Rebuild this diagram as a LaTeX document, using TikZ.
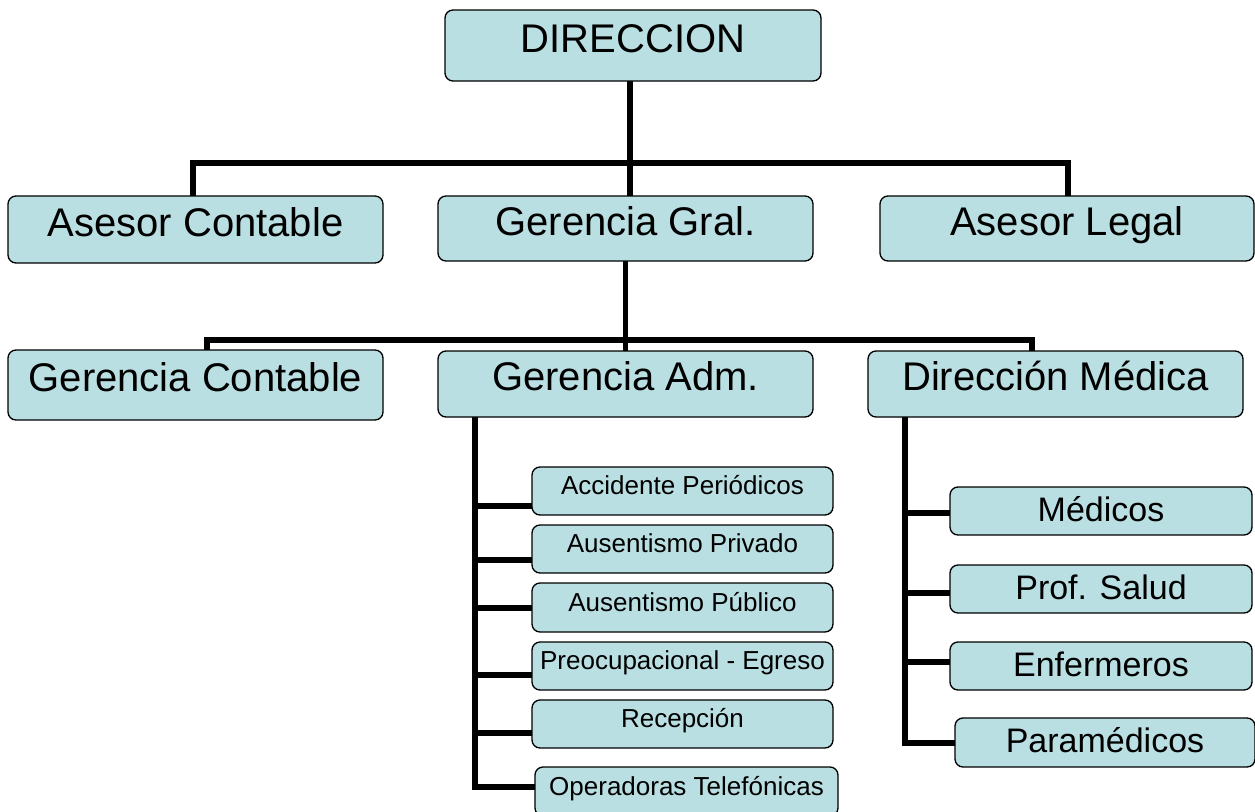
\documentclass[tikz,border=0pt]{standalone}
\usepackage{fontspec}
\setmainfont{Liberation Sans}
\definecolor{boxfill}{RGB}{185,223,226}
\pgfdeclarelayer{background}
\pgfsetlayers{background,main}
\begin{document}
\begin{tikzpicture}[x=0.75pt,y=-0.75pt,
  orgbox/.style={draw=black, line width=1pt, fill=boxfill, rounded corners=6pt,
    inner sep=0pt, outer sep=0pt, align=center},
  sz/.style 2 args={minimum width=#1*0.75pt, minimum height=#2*0.75pt},
  bigbox/.style={orgbox, font=\fontsize{30}{36}\selectfont, text height=16.95pt, text depth=6.75pt},
  midbox/.style={orgbox, font=\fontsize{25.5}{30}\selectfont, text height=21.2pt, text depth=6pt},
  smallbox/.style={orgbox, font=\fontsize{19.5}{24}\selectfont, text height=10.2pt, text depth=4.5pt},
  conn/.style={draw=black, line width=4.3pt, line join=miter}]
\useasboundingbox (0,0) rectangle (1255,811);

% top levels
\node[bigbox, sz={376}{71}] (dir) at (633,45.5) {DIRECCION};
\node[bigbox, sz={375}{67}] (ac) at (195.5,229.5) {Asesor Contable};
\node[bigbox, sz={375}{65}] (gg) at (625.5,228.5) {Gerencia Gral.};
\node[bigbox, sz={374}{65}] (al) at (1067,228.5) {Asesor Legal};
\node[bigbox, sz={375}{70}] (gc) at (195.5,385) {Gerencia Contable};
\node[bigbox, sz={375}{66}] (ga) at (625.5,384) {Gerencia Adm.};
\node[bigbox, sz={375}{66}] (dm) at (1055.5,384) {Dirección Médica};

% administration units
\node[smallbox, sz={301}{48}] (s1) at (682.5,491) {Accidente Periódicos};
\node[smallbox, sz={301}{48}] (s2) at (682.5,549) {Ausentismo Privado};
\node[smallbox, sz={301}{49}] (s3) at (682.5,607.5) {Ausentismo Público};
\node[smallbox, sz={301}{48}] (s4) at (682.5,666) {Preocupacional - Egreso};
\node[smallbox, sz={301}{48}] (s5) at (682.5,724) {Recepción};
\node[smallbox, sz={303}{49}] (s6) at (686.5,791.5) {Operadoras Telefónicas};

% medical staff
\node[midbox, sz={302}{48}] (p1) at (1101,511) {Médicos};
\node[midbox, sz={302}{48}] (p2) at (1101,589) {Prof. Salud};
\node[midbox, sz={302}{48}] (p3) at (1101,666) {Enfermeros};
\node[midbox, sz={300}{49}] (p4) at (1105,742.5) {Paramédicos};

% junction points
\coordinate (t1)  at (630,163);
\coordinate (t1l) at (193,163);
\coordinate (t1r) at (1068,163);
\coordinate (t2l) at (207,340);
\coordinate (t2r) at (1032,340);
\coordinate (a1) at (475,506);
\coordinate (a2) at (475,560);
\coordinate (a3) at (475,608);
\coordinate (a4) at (475,675);
\coordinate (a5) at (475,733);
\coordinate (a6) at (475,787);
\coordinate (m1) at (905,513);
\coordinate (m2) at (905,593);
\coordinate (m3) at (905,662);
\coordinate (m4) at (905,743);

\begin{pgfonlayer}{background}
  \draw[conn] (dir.south -| t1) -- (gg.north -| t1);
  \draw[conn] (ac.north -| t1l) -- (t1l) -- (t1r) -- (al.north -| t1r);
  \draw[conn] (gg.south) -- (ga.north);
  \draw[conn] (gc.north -| t2l) -- (t2l) -- (t2r) -- (dm.north -| t2r);
  \draw[conn] (ga.south -| a1) -- (a6) -- (a6 -| s6.west);
  \foreach \i in {1,...,5} \draw[conn] (a\i) -- (a\i -| s\i.west);
  \draw[conn] (dm.south -| m1) -- (m4) -- (m4 -| p4.west);
  \foreach \i in {1,2,3} \draw[conn] (m\i) -- (m\i -| p\i.west);
\end{pgfonlayer}
\end{tikzpicture}
\end{document}
